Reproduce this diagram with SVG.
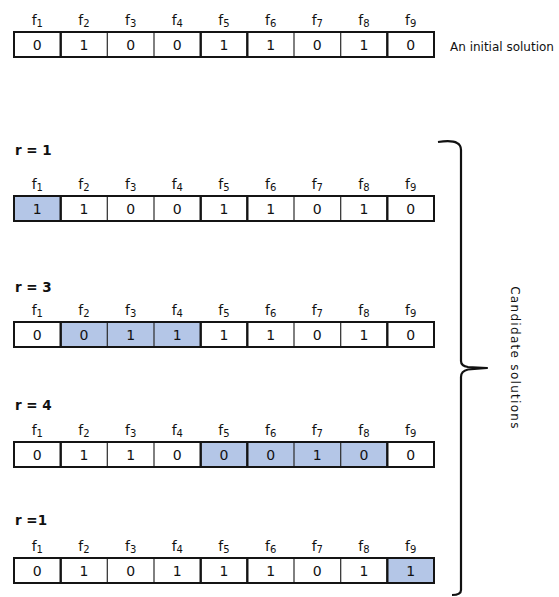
<svg xmlns="http://www.w3.org/2000/svg" xmlns:xlink="http://www.w3.org/1999/xlink" width="559" height="597" viewBox="0 0 559 597">
  <style>
    text { font-family: "DejaVu Sans", "Liberation Sans", sans-serif; fill: #111; }
    .hdr { font-size: 14px; text-anchor: middle; }
    .sub { font-size: 10px; }
    .val { font-size: 14px; text-anchor: middle; }
    .rlab { font-size: 13.5px; font-weight: bold; }
    .note { font-size: 12px; }
    .hl { fill: #b4c6e7; }
    .outer { fill: none; stroke: #141414; stroke-width: 2; }
    .thick { stroke: #141414; stroke-width: 2.4; }
    .thin { stroke: #2a2a2a; stroke-width: 1.2; }
    .brace { fill: none; stroke: #111; stroke-width: 2.2; stroke-linejoin: round; }
  </style>
  <defs>
    <!-- one 9-cell row: feature headers above, borders, dividers; y=0 is the top edge -->
    <g id="row">
      <text class="hdr" x="37.3" y="-7">f<tspan class="sub" dy="2">1</tspan></text>
      <text class="hdr" x="84" y="-7">f<tspan class="sub" dy="2">2</tspan></text>
      <text class="hdr" x="130.7" y="-7">f<tspan class="sub" dy="2">3</tspan></text>
      <text class="hdr" x="177.3" y="-7">f<tspan class="sub" dy="2">4</tspan></text>
      <text class="hdr" x="224" y="-7">f<tspan class="sub" dy="2">5</tspan></text>
      <text class="hdr" x="270.7" y="-7">f<tspan class="sub" dy="2">6</tspan></text>
      <text class="hdr" x="317.3" y="-7">f<tspan class="sub" dy="2">7</tspan></text>
      <text class="hdr" x="364" y="-7">f<tspan class="sub" dy="2">8</tspan></text>
      <text class="hdr" x="410.7" y="-7">f<tspan class="sub" dy="2">9</tspan></text>
      <line class="thick" x1="60.7" y1="0" x2="60.7" y2="25"/>
      <line class="thin" x1="107.3" y1="0" x2="107.3" y2="25"/>
      <line class="thin" x1="154" y1="0" x2="154" y2="25"/>
      <line class="thick" x1="200.7" y1="0" x2="200.7" y2="25"/>
      <line class="thick" x1="247.3" y1="0" x2="247.3" y2="25"/>
      <line class="thin" x1="294" y1="0" x2="294" y2="25"/>
      <line class="thin" x1="340.7" y1="0" x2="340.7" y2="25"/>
      <line class="thick" x1="387.3" y1="0" x2="387.3" y2="25"/>
      <rect class="outer" x="14" y="0" width="420" height="25"/>
    </g>
  </defs>

  <!-- initial solution -->
  <g id="initial" transform="translate(0,32)">
    <use xlink:href="#row"/>
    <text class="val" x="37.3" y="18">0</text>
    <text class="val" x="84" y="18">1</text>
    <text class="val" x="130.7" y="18">0</text>
    <text class="val" x="177.3" y="18">0</text>
    <text class="val" x="224" y="18">1</text>
    <text class="val" x="270.7" y="18">1</text>
    <text class="val" x="317.3" y="18">0</text>
    <text class="val" x="364" y="18">1</text>
    <text class="val" x="410.7" y="18">0</text>
    <text class="note" x="450" y="19">An initial solution</text>
  </g>

  <!-- candidate r = 1 (flip f1) -->
  <g id="cand1" transform="translate(0,196)">
    <text class="rlab" x="15" y="-41">r = 1</text>
    <rect class="hl" x="14" y="0" width="46.7" height="25"/>
    <use xlink:href="#row"/>
    <text class="val" x="37.3" y="18">1</text>
    <text class="val" x="84" y="18">1</text>
    <text class="val" x="130.7" y="18">0</text>
    <text class="val" x="177.3" y="18">0</text>
    <text class="val" x="224" y="18">1</text>
    <text class="val" x="270.7" y="18">1</text>
    <text class="val" x="317.3" y="18">0</text>
    <text class="val" x="364" y="18">1</text>
    <text class="val" x="410.7" y="18">0</text>
  </g>

  <!-- candidate r = 3 (flip f2..f4) -->
  <g id="cand2" transform="translate(0,322)">
    <text class="rlab" x="15" y="-30">r = 3</text>
    <rect class="hl" x="60.7" y="0" width="140" height="25"/>
    <use xlink:href="#row"/>
    <text class="val" x="37.3" y="18">0</text>
    <text class="val" x="84" y="18">0</text>
    <text class="val" x="130.7" y="18">1</text>
    <text class="val" x="177.3" y="18">1</text>
    <text class="val" x="224" y="18">1</text>
    <text class="val" x="270.7" y="18">1</text>
    <text class="val" x="317.3" y="18">0</text>
    <text class="val" x="364" y="18">1</text>
    <text class="val" x="410.7" y="18">0</text>
  </g>

  <!-- candidate r = 4 (flip f5..f8) -->
  <g id="cand3" transform="translate(0,442)">
    <text class="rlab" x="15" y="-32">r = 4</text>
    <rect class="hl" x="200.7" y="0" width="186.7" height="25"/>
    <use xlink:href="#row"/>
    <text class="val" x="37.3" y="18">0</text>
    <text class="val" x="84" y="18">1</text>
    <text class="val" x="130.7" y="18">1</text>
    <text class="val" x="177.3" y="18">0</text>
    <text class="val" x="224" y="18">0</text>
    <text class="val" x="270.7" y="18">0</text>
    <text class="val" x="317.3" y="18">1</text>
    <text class="val" x="364" y="18">0</text>
    <text class="val" x="410.7" y="18">0</text>
  </g>

  <!-- candidate r = 1 (flip f9) -->
  <g id="cand4" transform="translate(0,558)">
    <text class="rlab" x="15" y="-33">r =1</text>
    <rect class="hl" x="387.3" y="0" width="46.7" height="25"/>
    <use xlink:href="#row"/>
    <text class="val" x="37.3" y="18">0</text>
    <text class="val" x="84" y="18">1</text>
    <text class="val" x="130.7" y="18">0</text>
    <text class="val" x="177.3" y="18">1</text>
    <text class="val" x="224" y="18">1</text>
    <text class="val" x="270.7" y="18">1</text>
    <text class="val" x="317.3" y="18">0</text>
    <text class="val" x="364" y="18">1</text>
    <text class="val" x="410.7" y="18">1</text>
  </g>

  <!-- brace grouping the candidates -->
  <g id="connectors">
    <path class="brace" d="M438,142 Q452,140 457,143 Q461,145 461,150 L461,361 Q461,366 468,367 L487,368 L468,369.5 Q461,371 461,377 L461,590 Q461,595 452,595"/>
  </g>
  <g id="brace-label">
    <text class="note" font-size="13" letter-spacing="1.3" transform="translate(511,358) rotate(90)" text-anchor="middle">Candidate solutions</text>
  </g>
</svg>
